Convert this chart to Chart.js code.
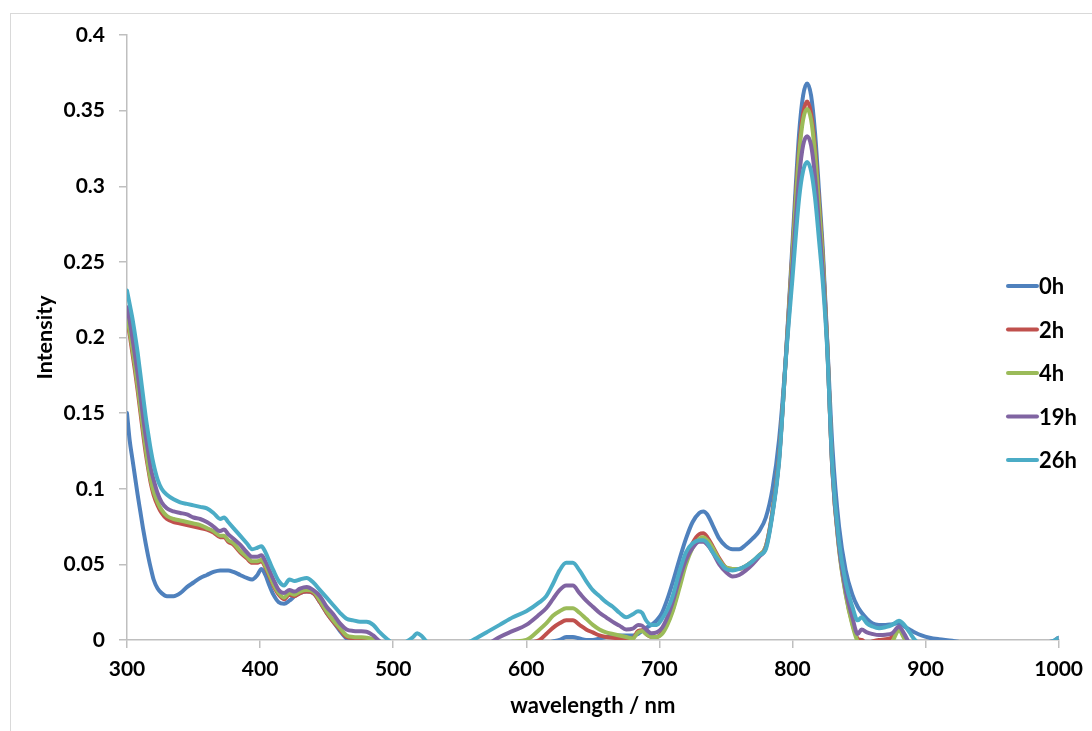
<!DOCTYPE html>
<html><head><meta charset="utf-8">
<script src="https://cdn.jsdelivr.net/npm/chart.js@4.4.1/dist/chart.umd.min.js"></script>
<style>html,body{margin:0;padding:0;background:#fff;overflow:hidden}#wrap{position:relative;width:1092px;height:731px}canvas{display:block}</style>
</head><body><div id="wrap"><canvas id="c" width="1092" height="731"></canvas></div>
<script>
// ---- data ----
const wavelengths = [
  300,302,304,306,308,310,312,314,316,318,
  320,323,326,330,335,340,345,350,355,360,
  365,370,373,376,380,385,390,394,398,401,
  404,407,410,414,418,422,426,430,435,440,
  445,450,455,460,465,470,475,480,485,490,
  495,500,505,510,515,518,521,525,530,540,
  550,560,570,580,590,600,610,615,620,625,
  630,635,640,645,650,655,660,665,670,675,
  680,684,687,690,694,698,702,706,710,715,
  720,725,730,733,736,740,745,750,755,760,
  765,770,775,780,785,790,795,800,805,808,
  811,814,817,820,823,826,830,835,840,845,
  849,852,856,860,865,870,875,880,884,888,
  892,897,903,910,920,930,950,980,995,1000
];
const series0h = [
  0.150,0.132,0.120,0.108,0.096,0.085,0.074,0.064,0.055,0.047,
  0.040,0.034,0.031,0.029,0.029,0.031,0.035,0.038,0.041,0.043,
  0.045,0.046,0.046,0.046,0.045,0.043,0.041,0.040,0.043,0.047,
  0.043,0.036,0.030,0.025,0.024,0.026,0.029,0.031,0.032,0.031,
  0.025,0.018,0.012,0.006,0.001,-0.002,-0.003,-0.004,-0.004,-0.004,
  -0.004,-0.004,-0.004,-0.004,-0.004,-0.004,-0.004,-0.004,-0.004,-0.004,
  -0.004,-0.004,-0.004,-0.004,-0.004,-0.003,-0.003,-0.002,-0.001,0.000,
  0.002,0.002,0.001,0.000,0.000,0.001,0.002,0.003,0.003,0.003,
  0.003,0.004,0.006,0.008,0.010,0.013,0.018,0.027,0.038,0.053,
  0.067,0.078,0.084,0.085,0.083,0.076,0.067,0.062,0.060,0.060,
  0.063,0.067,0.072,0.081,0.100,0.133,0.187,0.262,0.335,0.360,
  0.368,0.360,0.335,0.296,0.255,0.200,0.128,0.075,0.046,0.030,
  0.022,0.018,0.014,0.011,0.010,0.010,0.0105,0.011,0.009,0.007,
  0.005,0.003,0.0015,0.0005,-0.0005,-0.002,-0.003,-0.003,-0.002,-0.001
];
const series2h = [
  0.212,0.202,0.190,0.178,0.165,0.151,0.137,0.124,0.113,0.103,
  0.096,0.089,0.084,0.080,0.078,0.077,0.076,0.075,0.074,0.073,
  0.071,0.068,0.068,0.065,0.063,0.058,0.054,0.051,0.051,0.052,
  0.048,0.042,0.036,0.030,0.027,0.030,0.029,0.031,0.032,0.031,
  0.025,0.018,0.012,0.007,0.002,0.0012,0.001,0.0008,-0.001,-0.003,
  -0.004,-0.005,-0.005,-0.005,-0.005,-0.005,-0.005,-0.005,-0.005,-0.005,
  -0.005,-0.005,-0.005,-0.004,-0.003,-0.002,0.000,0.004,0.008,0.011,
  0.013,0.013,0.010,0.007,0.005,0.003,0.002,0.0015,0.001,0.0005,
  0.001,0.006,0.0065,0.004,0.002,0.002,0.005,0.011,0.020,0.036,
  0.052,0.064,0.070,0.0705,0.068,0.062,0.054,0.048,0.047,0.047,
  0.049,0.052,0.056,0.062,0.085,0.121,0.186,0.257,0.325,0.348,
  0.356,0.348,0.325,0.289,0.250,0.199,0.113,0.061,0.031,0.011,
  0.001,0.000,-0.002,-0.001,0.000,0.0005,0.002,0.008,0.002,-0.003,
  -0.004,-0.004,-0.004,-0.004,-0.004,-0.004,-0.004,-0.003,-0.002,-0.001
];
const series4h = [
  0.214,0.204,0.193,0.181,0.168,0.154,0.140,0.127,0.115,0.105,
  0.098,0.091,0.086,0.082,0.080,0.079,0.078,0.077,0.076,0.074,
  0.072,0.069,0.069,0.066,0.064,0.059,0.055,0.052,0.052,0.053,
  0.049,0.043,0.037,0.031,0.028,0.031,0.030,0.032,0.033,0.032,
  0.026,0.019,0.013,0.008,0.003,0.002,0.0018,0.0015,0.0005,-0.002,
  -0.004,-0.005,-0.005,-0.005,-0.005,-0.005,-0.005,-0.005,-0.005,-0.005,
  -0.005,-0.005,-0.004,-0.003,-0.001,0.000,0.007,0.011,0.016,0.019,
  0.021,0.021,0.018,0.014,0.010,0.007,0.005,0.004,0.003,0.002,
  0.001,0.005,0.006,0.004,0.002,0.002,0.004,0.010,0.019,0.034,
  0.050,0.061,0.067,0.068,0.066,0.061,0.053,0.048,0.047,0.047,
  0.049,0.052,0.056,0.062,0.085,0.121,0.186,0.255,0.321,0.344,
  0.351,0.344,0.321,0.286,0.248,0.198,0.112,0.060,0.030,0.010,
  -0.001,-0.003,-0.004,-0.004,-0.004,-0.003,-0.001,0.0066,0.001,-0.004,
  -0.005,-0.005,-0.005,-0.005,-0.005,-0.005,-0.004,-0.003,-0.002,-0.001
];
const series19h = [
  0.220,0.211,0.200,0.188,0.176,0.162,0.148,0.135,0.124,0.113,
  0.106,0.097,0.091,0.087,0.085,0.084,0.083,0.081,0.080,0.078,
  0.075,0.072,0.073,0.070,0.067,0.063,0.058,0.055,0.055,0.056,
  0.052,0.046,0.040,0.033,0.031,0.033,0.032,0.034,0.035,0.033,
  0.029,0.022,0.017,0.011,0.007,0.006,0.0058,0.0055,0.003,-0.001,
  -0.003,-0.004,-0.004,-0.004,-0.004,-0.004,-0.004,-0.004,-0.004,-0.004,
  -0.004,-0.004,-0.003,0.002,0.006,0.010,0.017,0.021,0.027,0.033,
  0.036,0.036,0.031,0.026,0.022,0.018,0.015,0.012,0.0095,0.007,
  0.0075,0.010,0.0095,0.007,0.0045,0.005,0.008,0.015,0.025,0.040,
  0.053,0.061,0.065,0.065,0.063,0.058,0.050,0.045,0.042,0.043,
  0.046,0.050,0.055,0.061,0.084,0.120,0.186,0.247,0.306,0.327,
  0.333,0.327,0.306,0.274,0.241,0.196,0.112,0.062,0.033,0.015,
  0.004,0.007,0.005,0.004,0.0033,0.0035,0.0045,0.0088,0.004,-0.002,
  -0.003,-0.003,-0.003,-0.003,-0.003,-0.003,-0.003,-0.002,-0.001,0.0015
];
const series26h = [
  0.231,0.222,0.213,0.202,0.190,0.176,0.162,0.148,0.136,0.125,
  0.116,0.106,0.100,0.096,0.093,0.091,0.090,0.089,0.088,0.087,
  0.084,0.080,0.081,0.078,0.074,0.069,0.064,0.060,0.061,0.062,
  0.058,0.052,0.046,0.039,0.036,0.040,0.039,0.040,0.041,0.038,
  0.033,0.028,0.023,0.018,0.014,0.013,0.012,0.012,0.010,0.005,
  0.001,-0.002,-0.002,-0.001,0.002,0.0045,0.003,-0.001,-0.004,-0.006,
  -0.004,0.000,0.005,0.010,0.015,0.019,0.025,0.029,0.037,0.046,
  0.051,0.051,0.046,0.039,0.033,0.029,0.025,0.022,0.018,0.015,
  0.017,0.019,0.018,0.013,0.010,0.010,0.014,0.020,0.029,0.045,
  0.058,0.064,0.066,0.066,0.064,0.058,0.052,0.047,0.046,0.047,
  0.049,0.052,0.056,0.060,0.083,0.118,0.185,0.239,0.292,0.310,
  0.316,0.310,0.292,0.264,0.234,0.194,0.115,0.065,0.038,0.022,
  0.013,0.015,0.011,0.009,0.0077,0.0085,0.010,0.0128,0.010,0.005,
  0.000,-0.003,-0.004,-0.004,-0.004,-0.004,-0.003,-0.002,-0.001,0.0015
];
const seriesLabels = ['0h','2h','4h','19h','26h'];
const seriesColors = ['#4F81BD','#C0504D','#9BBB59','#8064A2','#4BACC6'];
const xTickValues = [300,400,500,600,700,800,900,1000];
const yTickValues = [0,0.05,0.1,0.15,0.2,0.25,0.3,0.35,0.4];
const xTitle = 'wavelength / nm';
const yTitle = 'Intensity';

// ---- chart ----
const FONT = 'Lato';
const allSeries = [series0h, series2h, series4h, series19h, series26h];
const datasets = allSeries.map((vals, i) => ({
  label: seriesLabels[i],
  data: vals.map((v, k) => ({x: wavelengths[k], y: v})),
  borderColor: seriesColors[i],
  backgroundColor: seriesColors[i],
  borderWidth: 4,
  pointRadius: 0,
  fill: false,
  cubicInterpolationMode: 'monotone',
  borderCapStyle: 'round',
  borderJoinStyle: 'round',
  clip: 0,
  order: allSeries.length - i
}));

const framePlugin = {
  id: 'frame',
  beforeDraw(chart) {
    const ctx = chart.ctx;
    ctx.save();
    ctx.fillStyle = '#fff';
    ctx.fillRect(0, 0, chart.width, chart.height);
    ctx.strokeStyle = '#D9D9D9';
    ctx.lineWidth = 1;
    ctx.strokeRect(10.5, 13.5, 1200, 900);
    ctx.restore();
  }
};
const legendPlugin = {
  id: 'sideLegend',
  afterDraw(chart) {
    const ctx = chart.ctx;
    ctx.save();
    chart.data.datasets.forEach((ds, i) => {
      const y = 286 + i * 43.5;
      ctx.strokeStyle = ds.borderColor;
      ctx.lineWidth = 4;
      ctx.lineCap = 'round';
      ctx.beginPath(); ctx.moveTo(1008, y); ctx.lineTo(1037, y); ctx.stroke();
      ctx.fillStyle = '#000';
      ctx.font = 'bold 22px ' + FONT;
      ctx.textBaseline = 'middle';
      ctx.textAlign = 'left';
      ctx.fillText(ds.label, 1039, y + 1);
    });
    ctx.restore();
  }
};

new Chart(document.getElementById('c'), {
  type: 'line',
  data: { datasets },
  options: {
    responsive: false,
    animation: false,
    devicePixelRatio: 1,
    layout: { padding: { left: 10, right: 28, top: 35, bottom: 5 } },
    plugins: { legend: { display: false }, tooltip: { enabled: false } },
    scales: {
      x: {
        type: 'linear', min: 300, max: 1000,
        afterBuildTicks: s => { s.ticks = xTickValues.map(v => ({value: v})); },
        afterFit: s => { s.height = 86; },
        border: { display: true, color: '#BFBFBF', width: 1.5 },
        grid: { display: true, drawOnChartArea: false, drawTicks: true, tickLength: 8, color: '#BFBFBF', lineWidth: 1.5 },
        ticks: { color: '#000', padding: 9, maxRotation: 0, font: { family: FONT, size: 21, weight: 'bold' }, callback: v => String(v) },
        title: { display: true, text: xTitle, color: '#000', padding: { top: 0, bottom: 7 }, font: { family: FONT, size: 22, weight: 'bold' } }
      },
      y: {
        type: 'linear', min: 0, max: 0.4,
        afterBuildTicks: s => { s.ticks = yTickValues.map(v => ({value: v})); },
        afterFit: s => { s.width = 117; },
        border: { display: true, color: '#BFBFBF', width: 1.5 },
        grid: { display: true, drawOnChartArea: false, drawTicks: true, tickLength: 8, color: '#BFBFBF', lineWidth: 1.5 },
        ticks: { color: '#000', padding: 14, font: { family: FONT, size: 21, weight: 'bold' }, callback: v => String(+v.toFixed(2)) },
        title: { display: true, text: yTitle, color: '#000', padding: { top: 22, bottom: 0 }, font: { family: FONT, size: 21.5, weight: 'bold' } }
      }
    }
  },
  plugins: [framePlugin, legendPlugin]
});
</script>
</body></html>
